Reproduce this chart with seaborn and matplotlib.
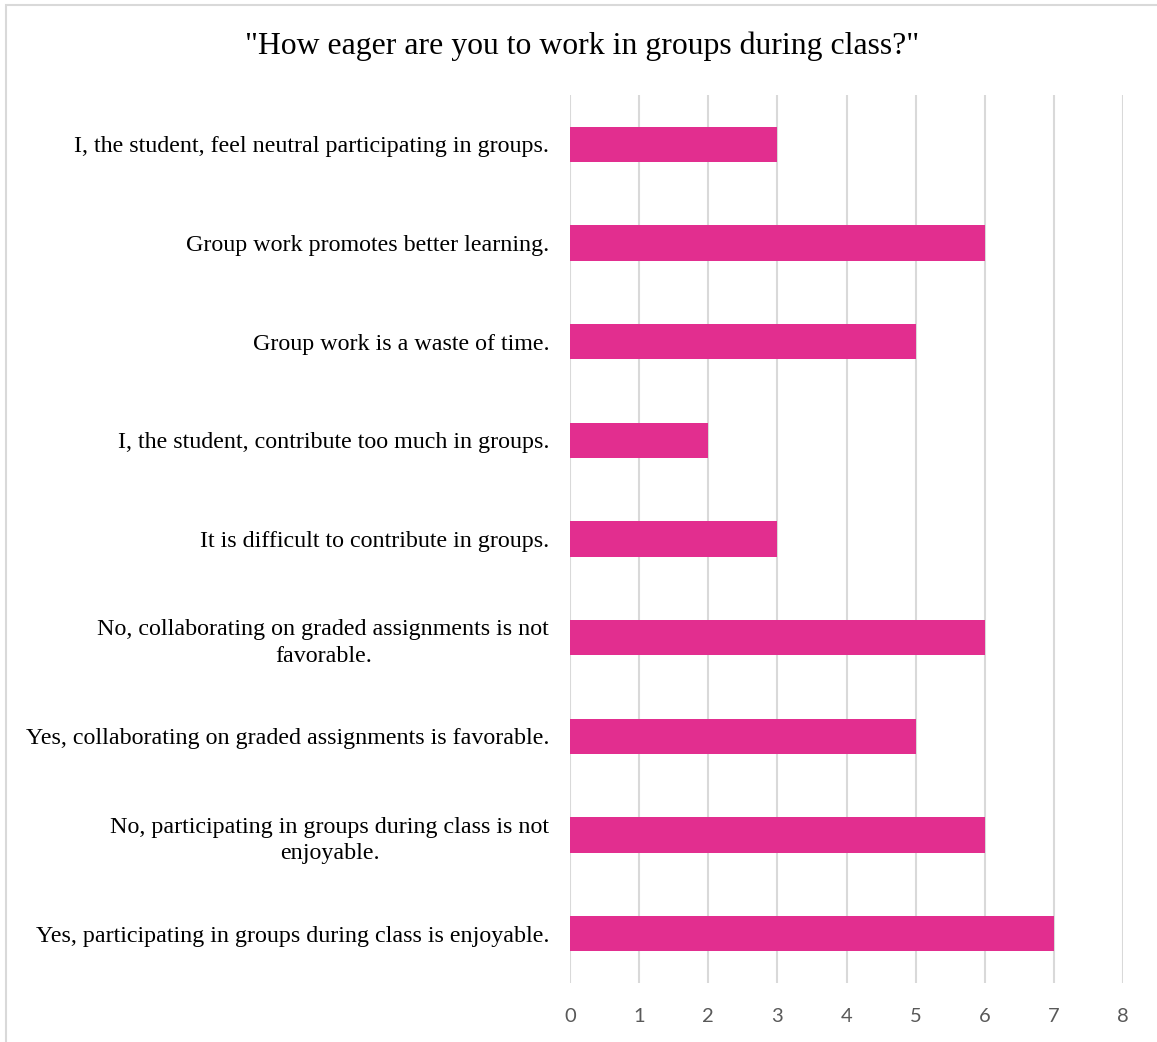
import textwrap
import matplotlib
matplotlib.use("Agg")
import matplotlib.pyplot as plt
import seaborn as sns
import pandas as pd
from matplotlib.patches import Rectangle

categories = [
    "I, the student, feel neutral participating in groups.",
    "Group work promotes better learning.",
    "Group work is a waste of time.",
    "I, the student, contribute too much in groups.",
    "It is difficult to contribute in groups.",
    "No, collaborating on graded assignments is not favorable.",
    "Yes, collaborating on graded assignments is favorable.",
    "No, participating in groups during class is not enjoyable.",
    "Yes, participating in groups during class is enjoyable.",
]
counts = [3, 6, 5, 2, 3, 6, 5, 6, 7]
x_ticks = [0, 1, 2, 3, 4, 5, 6, 7, 8]
title = '"How eager are you to work in groups during class?"'

df = pd.DataFrame({"response": categories, "count": counts})

sns.set_theme(style="white")
plt.rcParams["font.family"] = ["Liberation Serif", "DejaVu Serif"]

fig = plt.figure(figsize=(11.57, 10.42), dpi=100)
ax = fig.add_axes([570 / 1157, 1 - 983 / 1042, 553 / 1157, 888 / 1042])

sns.barplot(data=df, x="count", y="response", color="#E22E8F",
            saturation=1, width=0.355, orient="h", ax=ax,
            edgecolor="none", zorder=3)

ax.set_xlim(0, 8)
ax.set_ylim(len(categories) - 0.5, -0.5)
ax.set_xticks(x_ticks)
ax.set_xticklabels([str(t) for t in x_ticks], family=["Lato", "DejaVu Sans"],
                   fontsize=14.5, color="#595959")
ax.set_yticks(range(len(categories)))
ax.set_yticklabels([textwrap.fill(c, 56) for c in categories],
                   fontsize=17.3, color="#000000")
for lbl in ax.get_yticklabels():
    lbl.set_multialignment("center")
    lbl.set_linespacing(1.35)
ax.tick_params(axis="y", length=0, pad=15)
ax.tick_params(axis="x", length=0, pad=18)
ax.set_xlabel("")
ax.set_ylabel("")
for s in ax.spines.values():
    s.set_visible(False)
ax.xaxis.grid(True, color="#D9D9D9", linewidth=1.5, zorder=0)
ax.set_axisbelow(True)

fig.text(582 / 1157, 1 - 46 / 1042, title, ha="center", va="center",
         fontsize=22.9, color="#000000")

# outer chart frame
fig.patches.append(Rectangle((6 / 1157, -0.1), 1.2, 1 - 5 / 1042 + 0.1,
                             transform=fig.transFigure, fill=False,
                             edgecolor="#D9D9D9", linewidth=1.5))

fig.savefig("out.png", dpi=100)
